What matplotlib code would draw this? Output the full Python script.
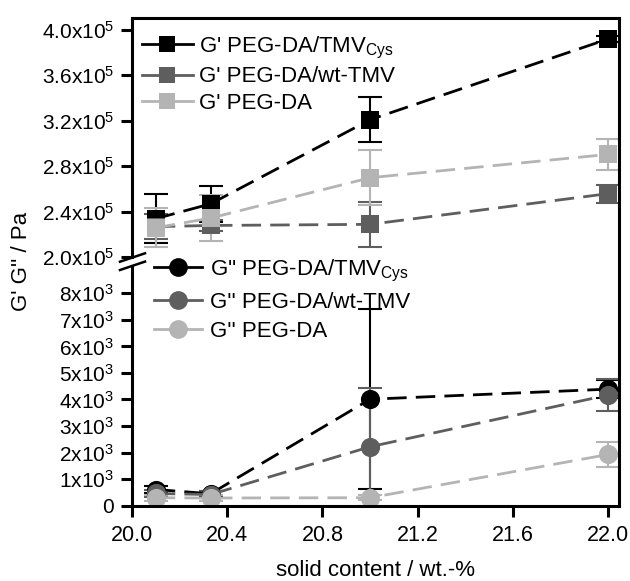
import matplotlib
matplotlib.use("Agg")
import matplotlib.pyplot as plt
from matplotlib.lines import Line2D

plt.rcParams["font.family"] = ["Liberation Sans", "DejaVu Sans"]
plt.rcParams["mathtext.fontset"] = "custom"
plt.rcParams["mathtext.rm"] = "Liberation Sans"
plt.rcParams["mathtext.it"] = "Liberation Sans:italic"
plt.rcParams["mathtext.bf"] = "Liberation Sans:bold"

# solid content (wt.-%)
x = [20.1, 20.33, 21.0, 22.0]

# storage modulus G' (Pa)
gp_cys = [2.34e5, 2.47e5, 3.21e5, 3.92e5]
gp_cys_err = [2.15e4, 1.6e4, 2.0e4, 3e3]
gp_wt = [2.27e5, 2.28e5, 2.29e5, 2.56e5]
gp_wt_err = [1.1e4, 5e3, 2.0e4, 8e3]
gp_peg = [2.26e5, 2.345e5, 2.70e5, 2.905e5]
gp_peg_err = [1.7e4, 2.0e4, 2.43e4, 1.35e4]

# loss modulus G'' (Pa)
gpp_cys = [610, 450, 4010, 4390]
gpp_cys_err = [150, 120, 3380, 350]
gpp_wt = [460, 420, 2220, 4170]
gpp_wt_err = [150, 120, 2220, 600]
gpp_peg = [300, 290, 300, 1930]
gpp_peg_err = [120, 100, 100, 480]

top_labels = ["G' PEG-DA/TMV$_{\\mathregular{Cys}}$", "G' PEG-DA/wt-TMV", "G' PEG-DA"]
bot_labels = ["G'' PEG-DA/TMV$_{\\mathregular{Cys}}$", "G'' PEG-DA/wt-TMV", "G'' PEG-DA"]

top_ticks = [2.0e5, 2.4e5, 2.8e5, 3.2e5, 3.6e5, 4.0e5]
top_ticklabels = ["2.0x10$^{5}$", "2.4x10$^{5}$", "2.8x10$^{5}$",
                  "3.2x10$^{5}$", "3.6x10$^{5}$", "4.0x10$^{5}$"]
bot_ticks = [0, 1e3, 2e3, 3e3, 4e3, 5e3, 6e3, 7e3, 8e3]
bot_ticklabels = ["0", "1x10$^{3}$", "2x10$^{3}$", "3x10$^{3}$", "4x10$^{3}$",
                  "5x10$^{3}$", "6x10$^{3}$", "7x10$^{3}$", "8x10$^{3}$"]
x_ticks = [20.0, 20.4, 20.8, 21.2, 21.6, 22.0]
x_ticklabels = ["20.0", "20.4", "20.8", "21.2", "21.6", "22.0"]

colors = ["#000000", "#5e5e5e", "#b4b4b4"]
W, H = 630, 581


def px(xp, yp):
    return xp / W, 1 - yp / H


fig = plt.figure(figsize=(6.3, 5.81), dpi=100)
ax_top = fig.add_axes([0.2095, 0.5571, 0.773, 0.4119])
ax_bot = fig.add_axes([0.2095, 0.1296, 0.773, 0.4126])
for ax in (ax_top, ax_bot):
    ax.patch.set_visible(False)

dash = (0, (7, 3.3))
style = dict(lw=2, ls=dash, elinewidth=1.5, capsize=8.4, capthick=1.5)

for y, e, c in zip([gp_cys, gp_wt, gp_peg], [gp_cys_err, gp_wt_err, gp_peg_err], colors):
    eb = ax_top.errorbar(x, y, yerr=e, color=c, marker="s", markersize=12.5, **style)
    eb[0].set_markeredgewidth(0)
for y, e, c in zip([gpp_cys, gpp_wt, gpp_peg], [gpp_cys_err, gpp_wt_err, gpp_peg_err], colors):
    eb = ax_bot.errorbar(x, y, yerr=e, color=c, marker="o", markersize=13.8, **style)
    eb[0].set_markeredgewidth(0)

for ax in (ax_top, ax_bot):
    ax.set_xlim(20.0, 22.045)
    ax.spines["right"].set_visible(False)
    for s in ax.spines.values():
        s.set_linewidth(2.2)
    ax.tick_params(axis="both", direction="out", length=8, width=2.2, labelsize=15)
    ax.tick_params(axis="y", pad=5)
    ax.tick_params(axis="x", pad=6, labelsize=15.5)

ax_top.set_ylim(2.0e5, 4.104e5)
ax_top.set_yticks(top_ticks)
ax_top.set_yticklabels(top_ticklabels)
ax_top.spines["bottom"].set_visible(False)
ax_top.tick_params(axis="x", bottom=False, labelbottom=False)

ax_bot.set_ylim(0, 9028)
ax_bot.set_yticks(bot_ticks)
ax_bot.set_yticklabels(bot_ticklabels)
ax_bot.set_xticks(x_ticks)
ax_bot.set_xticklabels(x_ticklabels)
ax_bot.spines["top"].set_visible(False)

# right frame line running across the break
fig.add_artist(Line2D(*zip(px(619, 18), px(619, 505.7)), color="black", lw=2.2,
                      transform=fig.transFigure))
# break marks on the left axis
for y0 in (261.7, 270):
    fig.add_artist(Line2D(*zip(px(120, y0), px(145, y0 - 8.4)), color="black", lw=1.8,
                          transform=fig.transFigure))

h_top = [Line2D([], [], color=c, lw=2, marker="s", markersize=12.2, markeredgewidth=0)
         for c in colors]
h_bot = [Line2D([], [], color=c, lw=2, marker="o", markersize=13.5, markeredgewidth=0)
         for c in colors]
ax_top.legend(h_top, top_labels, loc="upper left", bbox_to_anchor=(9.7 / 487, 0.93),
              frameon=False, fontsize=16, handlelength=2.3, handletextpad=0.3,
              labelspacing=0.25, borderpad=0, borderaxespad=0)
ax_bot.legend(h_bot, bot_labels, loc="upper left", bbox_to_anchor=(22 / 487, 1.035),
              frameon=False, fontsize=16, handlelength=2.14, handletextpad=0.38,
              labelspacing=0.36, borderpad=0, borderaxespad=0)

fig.text(*px(22, 261), "G' G'' / Pa", rotation=90, ha="center", va="center", fontsize=16)
fig.text(*px(375.5, 576), "solid content / wt.-%", ha="center", va="baseline", fontsize=16)

fig.savefig("out.png", dpi=100)
